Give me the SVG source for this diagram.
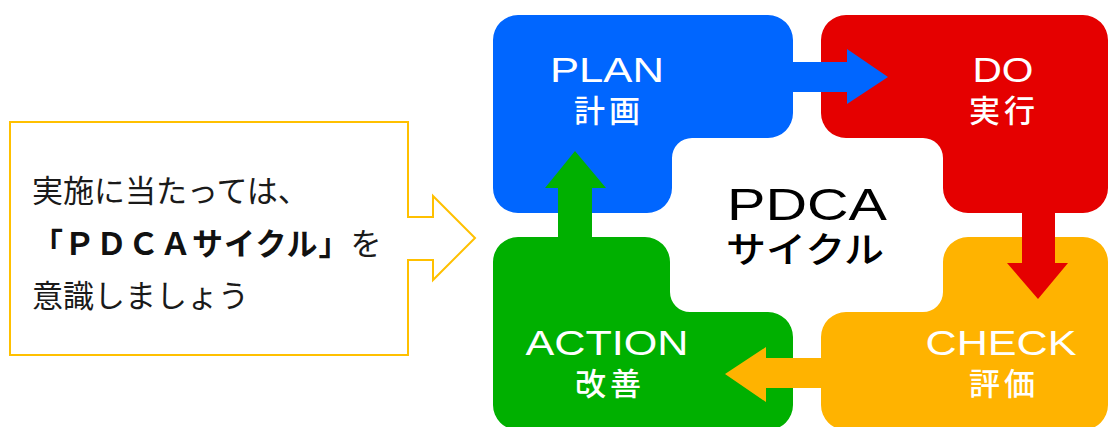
<svg xmlns="http://www.w3.org/2000/svg" width="1108" height="427" viewBox="0 0 1108 427">
<style>
.lbl{font-family:"Liberation Sans","Noto Sans CJK JP",sans-serif;fill:#fff;text-anchor:middle}
.en{font-size:35px}
.jp{font-family:"Noto Sans CJK JP",sans-serif;font-size:31px;font-weight:500;letter-spacing:4px}
.ctr{font-family:"Liberation Sans","Noto Sans CJK JP",sans-serif;fill:#000;text-anchor:middle}
.note{font-family:"Noto Sans CJK JP",sans-serif;font-size:31px;fill:#1a1a1a}
</style>
<rect width="1108" height="427" fill="#fff"/>
<g id="note">
<path d="M10,122 H408 V217 H433 V196 L475,238 L433,280 V260 H408 V355 H10 Z" fill="#fff" stroke="#FFC000" stroke-width="2"/>
<text class="note" x="32" y="202">実施に当たっては、</text>
<text class="note" x="32" y="255" letter-spacing="1"><tspan font-weight="bold" fill="#111">「ＰＤＣＡサイクル」</tspan>を</text>
<text class="note" x="32" y="307">意識しましょう</text>
</g>
<g id="plan">
<path d="M518,15 H768 A25,25 0 0 1 793,40 V113 A25,25 0 0 1 768,138 H692 A20,20 0 0 0 672,158 V188 A25,25 0 0 1 647,213 H518 A25,25 0 0 1 493,188 V40 A25,25 0 0 1 518,15 Z" fill="#0066FF"/>
<text class="lbl en" x="607" y="82" textLength="114" lengthAdjust="spacingAndGlyphs">PLAN</text>
<text class="lbl jp" x="609" y="122">計画</text>
</g>
<g id="do">
<path d="M846,15 H1083 A25,25 0 0 1 1108,40 V188 A25,25 0 0 1 1083,213 H968 A25,25 0 0 1 943,188 V158 A20,20 0 0 0 923,138 H846 A25,25 0 0 1 821,113 V40 A25,25 0 0 1 846,15 Z" fill="#E50000"/>
<text class="lbl en" x="1003" y="82" textLength="61" lengthAdjust="spacingAndGlyphs">DO</text>
<text class="lbl jp" x="1004" y="122">実行</text>
</g>
<g id="action">
<path d="M518,237 H645 A25,25 0 0 1 670,262 V292 A20,20 0 0 0 690,312 H768 A25,25 0 0 1 793,337 V405 A25,25 0 0 1 768,430 H518 A25,25 0 0 1 493,405 V262 A25,25 0 0 1 518,237 Z" fill="#00B000"/>
<text class="lbl en" x="607" y="355" textLength="163" lengthAdjust="spacingAndGlyphs">ACTION</text>
<text class="lbl jp" x="610" y="395">改善</text>
</g>
<g id="check">
<path d="M968,237 H1083 A25,25 0 0 1 1108,262 V405 A25,25 0 0 1 1083,430 H846 A25,25 0 0 1 821,405 V337 A25,25 0 0 1 846,312 H923 A20,20 0 0 0 943,292 V262 A25,25 0 0 1 968,237 Z" fill="#FFB300"/>
<text class="lbl en" x="1001" y="355" textLength="151" lengthAdjust="spacingAndGlyphs">CHECK</text>
<text class="lbl jp" x="1004" y="395">評価</text>
</g>
<g id="center">
<text class="ctr" x="807" y="220" font-size="44" textLength="160" lengthAdjust="spacingAndGlyphs">PDCA</text>
<text class="ctr" x="805" y="263" font-size="36" font-family="Noto Sans CJK JP,sans-serif" font-weight="500" textLength="158" lengthAdjust="spacingAndGlyphs">サイクル</text>
</g>
<g id="connectors">
<polygon points="780,62 847,62 847,49 888,77 847,104 847,92 780,92" fill="#0066FF"/>
<polygon points="1022,200 1022,263 1007,263 1038,299 1068,263 1055,263 1055,200" fill="#E50000"/>
<polygon points="830,358 766,358 766,347 725,374 766,402 766,388 830,388" fill="#FFB300"/>
<polygon points="558,250 558,188 545,188 575,151 606,188 592,188 592,250" fill="#00B000"/>
</g>
</svg>
